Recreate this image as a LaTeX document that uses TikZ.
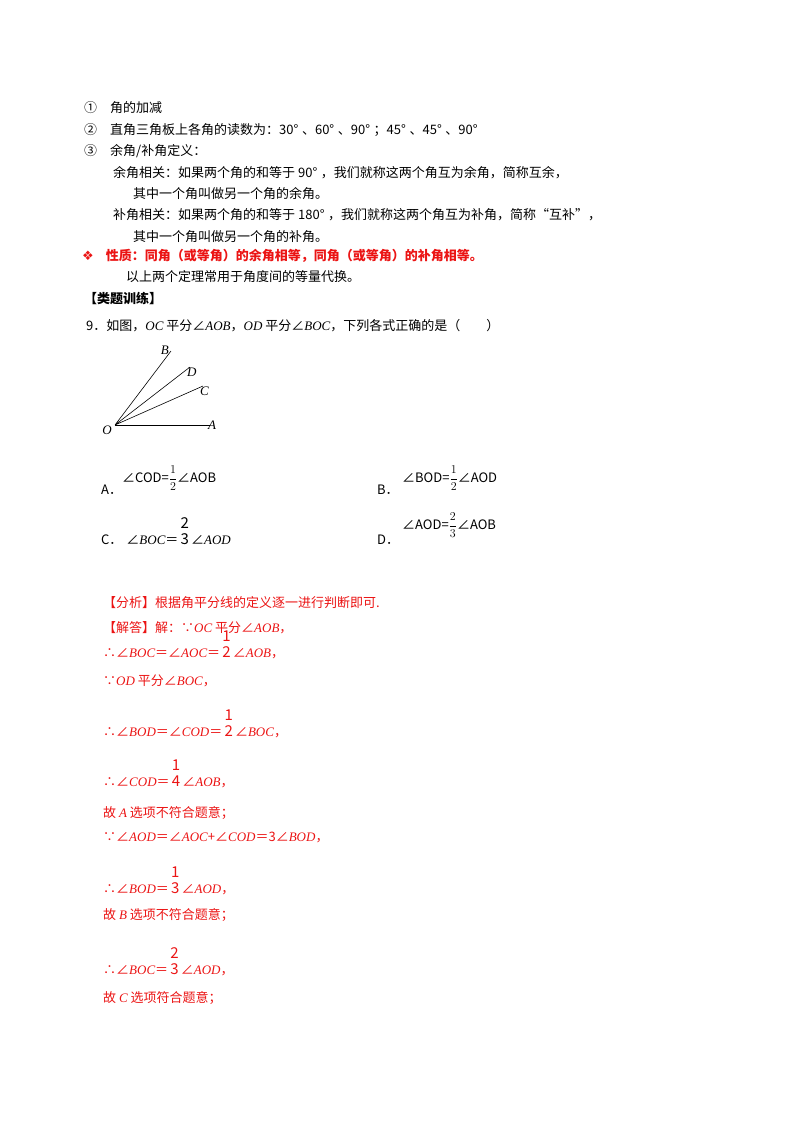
\documentclass[tikz,border=0pt]{standalone}
\usepackage{amsmath}
\usepackage{fontspec}
\setmainfont{Noto Sans CJK SC}
\newfontfamily\djv{DejaVu Sans}
\newfontfamily\lser{Liberation Serif}
\definecolor{rd}{RGB}{235,20,20}
\newcommand\iv[1]{{\lser\itshape #1}}
\newcommand\ang[1]{∠\iv{#1}}
\newcommand\fr[2]{\makebox[0pt][l]{\raisebox{16pt}{\fontsize{15}{16}\selectfont #1}}{\fontsize{15}{16}\selectfont #2}}
\tikzset{t/.style={anchor=base west,inner sep=0pt,font=\fontsize{13}{15}\selectfont},
 r/.style={t,text=rd},
 lbl/.style={inner sep=1pt,font=\lser\itshape\fontsize{13}{15}\selectfont}}
\begin{document}
\begin{tikzpicture}[x=1pt,y=-1pt]
\useasboundingbox (0,0) rectangle (800,1132);
\node[t] (l1) at (84,112) {①\hspace{13pt}角的加减};
\node[t] (l2) at (84,134) {②\hspace{13pt}直角三角板上各角的读数为：30°\;、60°\;、90°\;；45°\;、45°\;、90°};
\node[t] (l3) at (84,155) {③\hspace{13pt}余角/补角定义：};
\node[t] (l4) at (113,177) {余角相关：如果两个角的和等于 90°\;，我们就称这两个角互为余角，简称互余，};
\node[t] (l5) at (133,198) {其中一个角叫做另一个角的余角。};
\node[t] (l6) at (113,219) {补角相关：如果两个角的和等于 180°\;，我们就称这两个角互为补角，简称“互补”，};
\node[t] (l7) at (133,241) {其中一个角叫做另一个角的补角。};
\node[r] (l8) at (82,260) {{\djv ❖}\hspace{12pt}\textbf{性质：同角（或等角）的余角相等，同角（或等角）的补角相等。}};
\node[t] (l9) at (126,281) {以上两个定理常用于角度间的等量代换。};
\node[t] (l10) at (84,303) {\textbf{【类题训练】}};
\node[t] (q) at (86,330) {9．如图，\iv{OC} 平分\ang{AOB}，\iv{OD} 平分\ang{BOC}，下列各式正确的是（\hspace{26pt}）};
% figure
\coordinate (O) at (115,425);
\coordinate (A) at (210,425);
\coordinate (B) at (171,351);
\coordinate (D) at (190,367);
\coordinate (C) at (203,386);
\draw[line width=0.8pt] (O) -- (A);
\draw[line width=0.6pt] (O) -- (B) (O) -- (D) (O) -- (C);
\node[lbl,anchor=east] (nO) at (113,430) {O};
\node[lbl,anchor=west] (nA) at (207,425) {A};
\node[lbl,anchor=east] (nB) at (170,350) {B};
\node[lbl,anchor=west] (nD) at (186,372) {D};
\node[lbl,anchor=west] (nC) at (199,391) {C};
% options
\node[t] (oA) at (101,494) {A．};
\node[t] (fA) at (122,482) {∠COD=$\dfrac{1}{2}$∠AOB};
\node[t] (oB) at (377,494) {B．};
\node[t] (fB) at (402,482) {∠BOD=$\dfrac{1}{2}$∠AOD};
\node[t] (oC) at (101,544) {C．\hspace{4pt}\ang{BOC}＝\,\fr{2}{3}\,\ang{AOD}};
\node[t] (oD) at (377,544) {D．};
\node[t] (fD) at (402,529) {∠AOD=$\dfrac{2}{3}$∠AOB};
% solution
\node[r] (s1) at (103,607) {【分析】根据角平分线的定义逐一进行判断即可.};
\node[r] (s2) at (103,632) {【解答】解：∵\iv{OC} 平分\ang{AOB}，};
\node[r] (s3) at (103,657) {∴\ang{BOC}＝\ang{AOC}＝\,\fr{1}{2}\,\ang{AOB}，};
\node[r] (s4) at (103,685) {∵\iv{OD} 平分\ang{BOC}，};
\node[r] (s5) at (103,736) {∴\ang{BOD}＝\ang{COD}＝\,\fr{1}{2}\,\ang{BOC}，};
\node[r] (s6) at (103,786) {∴\ang{COD}＝\,\fr{1}{4}\,\ang{AOB}，};
\node[r] (s7) at (103,817) {故 \iv{A} 选项不符合题意；};
\node[r] (s8) at (103,841) {∵\ang{AOD}＝\ang{AOC}+\ang{COD}＝3\ang{BOD}，};
\node[r] (s9) at (103,893) {∴\ang{BOD}＝\,\fr{1}{3}\,\ang{AOD}，};
\node[r] (s10) at (103,919) {故 \iv{B} 选项不符合题意；};
\node[r] (s11) at (103,974) {∴\ang{BOC}＝\,\fr{2}{3}\,\ang{AOD}，};
\node[r] (s12) at (103,1002) {故 \iv{C} 选项符合题意；};
\end{tikzpicture}
\end{document}
